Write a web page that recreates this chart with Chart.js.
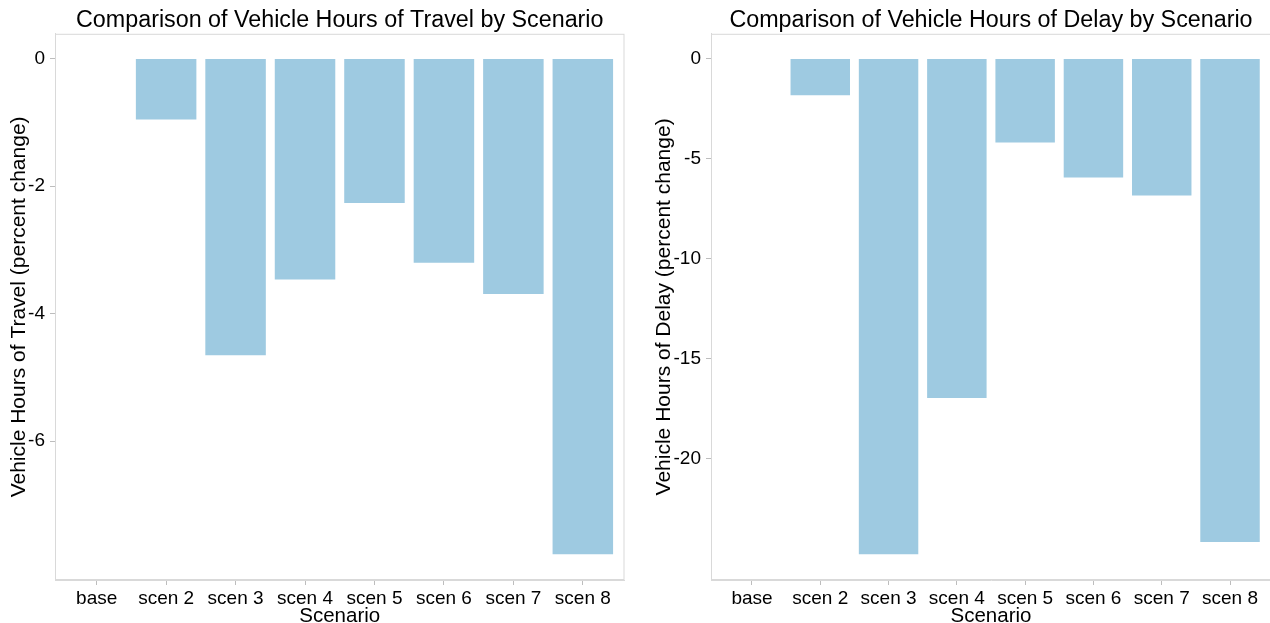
<!DOCTYPE html>
<html>
<head>
<meta charset="utf-8">
<script src="https://cdn.jsdelivr.net/npm/chart.js@4"></script>
<style>
    body { margin: 0; overflow: hidden; background: #fff; width: 1270px; height: 623px; position: relative; }
    .panel { position: absolute; top: 0; width: 640px; height: 623px; }
</style>
</head>
<body>
<div class="panel" style="left:0"><canvas id="graphTravel"></canvas></div>
<div class="panel" style="left:640px"><canvas id="graphDelay"></canvas></div>
<script>
// Datos
const scenarios = ['base', 'scen 2', 'scen 3', 'scen 4', 'scen 5', 'scen 6', 'scen 7', 'scen 8'];
const travelChange = [0, -0.97, -4.67, -3.48, -2.28, -3.22, -3.71, -7.79];
const delayChange = [0, -1.88, -24.83, -17.02, -4.25, -5.99, -6.90, -24.22];
const travelTicks = [0, -2, -4, -6];
const delayTicks = [0, -5, -10, -15, -20];

const FONT = "'Liberation Sans', Arial, sans-serif";
const BAR_COLOR = '#9ecae1';
const FRAME_COLOR = '#d9d9d9';

// Borde completo alrededor del area del grafico
const frame = {
    id: 'frame',
    afterDraw(chart) {
        const {ctx, chartArea: a} = chart;
        ctx.save();
        ctx.strokeStyle = FRAME_COLOR;
        ctx.lineWidth = 1;
        ctx.strokeRect(a.left + 0.5, a.top + 0.5, a.right - a.left - 1, a.bottom - a.top - 1);
        ctx.restore();
    }
};

function makeChart(canvasId, values, ticks, title, yTitle, yWidth, padRight, yTitlePad) {
    const lo = Math.min(0, ...values), hi = Math.max(0, ...values);
    const ex = (hi - lo) * 0.05;
    const ctx = document.getElementById(canvasId).getContext('2d');
    return new Chart(ctx, {
        type: 'bar',
        data: {
            datasets: [{
                data: values.map((v, i) => ({x: i + 1, y: v})),
                backgroundColor: BAR_COLOR,
                borderColor: 'rgba(255,255,255,0.7)',
                borderWidth: 1,
                barPercentage: 0.9,
                categoryPercentage: 1
            }]
        },
        options: {
            responsive: true,
            maintainAspectRatio: false,
            animation: false,
            layout: { padding: { left: 0, right: padRight, top: 0, bottom: 0 } },
            plugins: {
                legend: { display: false },
                tooltip: { enabled: false },
                title: {
                    display: true,
                    text: title,
                    fullSize: false,
                    color: '#000',
                    font: { family: FONT, size: 23.3, weight: 'normal', lineHeight: 1.15 },
                    padding: { top: 7, bottom: 0 }
                }
            },
            scales: {
                x: {
                    type: 'linear',
                    offset: false,
                    min: 0.4,
                    max: scenarios.length + 0.6,
                    afterBuildTicks: s => { s.ticks = scenarios.map((c, i) => ({value: i + 1})); },
                    afterFit: s => { s.height = 43; },
                    ticks: {
                        color: '#000',
                        font: { family: FONT, size: 19 },
                        padding: 2,
                        maxRotation: 0,
                        autoSkip: false,
                        callback: v => scenarios[v - 1]
                    },
                    grid: { offset: false, drawOnChartArea: false, drawTicks: true, tickLength: 5, color: '#bdbdbd' },
                    border: { display: true, color: FRAME_COLOR },
                    title: {
                        display: true,
                        text: 'Scenario',
                        color: '#000',
                        font: { family: FONT, size: 20.5, lineHeight: 1 },
                        padding: { top: 0, bottom: -4 }
                    }
                },
                y: {
                    min: lo - ex,
                    max: hi + ex,
                    afterBuildTicks: s => { s.ticks = ticks.map(v => ({value: v})); },
                    afterFit: s => { s.width = yWidth; },
                    ticks: {
                        color: '#000',
                        font: { family: FONT, size: 19 },
                        padding: 5
                    },
                    grid: { drawOnChartArea: false, drawTicks: true, tickLength: 5, color: '#bdbdbd' },
                    border: { display: true, color: FRAME_COLOR },
                    title: {
                        display: true,
                        text: yTitle,
                        color: '#000',
                        font: { family: FONT, size: 21, lineHeight: 1 },
                        padding: { top: yTitlePad, bottom: 0 }
                    }
                }
            }
        },
        plugins: [frame]
    });
}

makeChart('graphTravel', travelChange, travelTicks,
    'Comparison of Vehicle Hours of Travel by Scenario',
    'Vehicle Hours of Travel (percent change)', 55, 15.5, 9);

makeChart('graphDelay', delayChange, delayTicks,
    'Comparison of Vehicle Hours of Delay by Scenario',
    'Vehicle Hours of Delay (percent change)', 71, 9, 14);
</script>
</body>
</html>
